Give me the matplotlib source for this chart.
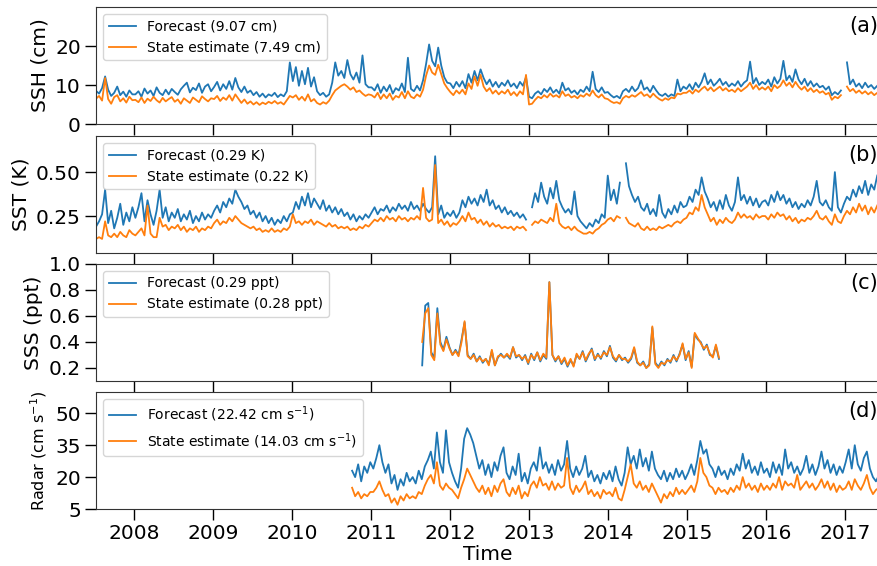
import numpy as np
import pandas as pd
import matplotlib
matplotlib.use('Agg')
import matplotlib.pyplot as plt
import matplotlib.dates as mdates
from matplotlib.ticker import FormatStrFormatter

nan = np.nan

# Biweekly RMS misfits of forecast vs. state estimate against each data type.
# Rows are calendar years (first row: Jul-Dec 2007).
ssh_start = '2007-07-09'
ssh_forecast = [
    8.5, 7.8, 9.2, 12.2, 8.8, 7.2, 8.0, 9.6, 7.4, 8.3, 7.0, 8.6, 7.6,
    7.6, 8.4, 7.0, 9.1, 7.8, 8.6, 7.2, 9.4, 8.0, 7.4, 8.8, 7.6, 9.0, 8.2, 7.5, 8.9, 9.8, 10.6, 8.1, 9.3, 8.7, 10.4, 8.0, 9.6, 10.2, 8.4,
    9.5, 10.8, 8.6, 10.2, 9.0, 11.0, 8.8, 11.8, 9.4, 8.2, 9.6, 8.0, 8.6, 7.4, 8.2, 7.0, 7.8, 6.8, 7.6, 7.2, 8.0, 6.9, 7.6, 7.1, 8.4, 15.8,
    11.0, 14.6, 9.8, 13.6, 10.2, 14.4, 9.6, 12.0, 8.4, 7.4, 8.0, 7.0, 7.6, 10.6, 15.8, 12.4, 13.6, 11.8, 16.4, 12.8, 11.4, 13.2, 10.6, 17.6, 10.2, 9.4,
    9.4, 8.6, 10.2, 8.0, 9.6, 8.4, 10.0, 7.8, 9.2, 8.6, 10.4, 8.2, 17.0, 9.0, 8.4, 9.8, 8.6, 11.2, 15.4, 20.4, 16.2, 14.8, 19.6, 15.0, 12.0, 10.6,
    10.4, 9.2, 10.8, 9.6, 11.0, 9.2, 12.8, 10.6, 13.6, 11.2, 14.0, 11.8, 10.2, 11.4, 9.6, 10.8, 9.4, 10.6, 9.8, 11.2, 9.6, 10.4, 9.2, 10.8, 9.8, 12.0,
    7.0, 6.6, 7.8, 8.4, 7.6, 9.0, 8.2, 9.4, 8.0, 8.8, 7.8, 10.6, 8.6, 9.2, 8.0, 8.6, 7.6, 8.8, 8.2, 9.6, 8.4, 13.4, 9.0, 8.2, 9.4, 8.0,
    8.2, 7.4, 6.8, 7.2, 6.6, 8.4, 9.0, 8.2, 9.6, 8.4, 9.2, 11.2, 8.8, 9.4, 8.2, 9.8, 8.6, 7.6, 7.2, 7.8, 7.0, 7.6, 7.2, 11.4, 8.4, 9.6,
    9.0, 10.2, 8.8, 10.6, 9.4, 10.8, 13.0, 10.2, 11.4, 9.8, 10.6, 11.6, 10.0, 10.8, 9.6, 10.4, 9.8, 11.0, 9.6, 10.6, 11.2, 16.0, 10.4, 11.8, 10.0, 10.8,
    10.2, 11.4, 9.6, 12.0, 10.4, 11.6, 16.2, 11.2, 12.4, 10.8, 14.0, 11.4, 10.2, 11.6, 9.8, 11.0, 9.6, 10.4, 9.4, 9.8, 8.8, 9.6, 7.4, 8.2, 7.6, 8.6,
    nan, 15.8, 10.2, 11.4, 9.6, 10.4, 9.2, 10.6, 9.4, 10.0, 9.0, 9.8,
]
ssh_state = [
    6.5, 7.2, 6.0, 11.8, 6.4, 5.2, 6.9, 7.4, 5.8, 6.6, 5.5, 7.0, 6.1,
    6.2, 5.6, 6.8, 5.4, 6.5, 5.9, 7.0, 6.1, 5.5, 6.7, 5.8, 6.4, 6.9, 5.7, 6.3, 5.2, 6.6, 6.0, 5.4, 6.8, 6.2, 5.6, 7.1, 6.4, 5.8, 6.6,
    6.4, 7.2, 5.9, 6.8, 6.2, 7.4, 6.0, 7.6, 6.5, 5.4, 6.3, 5.2, 5.8, 5.0, 5.6, 4.9, 5.5, 5.1, 5.7, 5.3, 5.9, 5.2, 5.6, 5.0, 6.1, 7.2,
    6.8, 7.4, 6.2, 7.0, 6.0, 7.6, 5.8, 6.4, 5.4, 5.0, 5.6, 5.2, 6.0, 7.4, 8.6, 9.2, 9.8, 10.2, 9.6, 8.8, 9.4, 8.2, 8.6, 7.8, 7.2, 7.6,
    7.4, 6.8, 8.0, 6.4, 7.6, 6.6, 7.8, 6.2, 7.2, 6.8, 8.2, 6.6, 8.4, 7.0, 6.6, 7.6, 7.0, 8.8, 12.4, 15.0, 13.2, 12.6, 15.2, 12.8, 10.4, 9.2,
    8.2, 7.4, 8.6, 7.8, 8.8, 7.6, 10.4, 9.0, 12.2, 9.8, 12.6, 9.6, 8.4, 9.2, 7.8, 8.6, 7.6, 8.4, 7.8, 8.8, 7.4, 8.2, 7.2, 8.4, 7.6, 12.6,
    5.0, 5.2, 6.2, 7.0, 6.6, 7.4, 6.8, 7.8, 7.0, 7.4, 6.8, 8.4, 7.2, 7.6, 6.8, 7.2, 6.6, 7.4, 7.0, 7.8, 7.2, 8.6, 7.4, 6.8, 7.6, 6.6,
    6.4, 5.8, 5.4, 5.6, 5.2, 6.6, 7.2, 6.8, 7.4, 7.0, 7.6, 8.2, 7.2, 7.6, 6.8, 7.8, 7.0, 6.4, 6.0, 6.6, 6.2, 6.8, 6.6, 7.8, 7.6, 8.0,
    8.0, 8.6, 7.8, 8.8, 8.2, 9.0, 9.6, 8.6, 9.4, 8.4, 9.0, 9.6, 8.6, 9.2, 8.4, 8.8, 8.2, 9.2, 8.4, 9.0, 9.6, 10.6, 9.0, 10.0, 8.8, 9.4,
    8.8, 9.6, 8.4, 10.0, 9.2, 9.8, 11.2, 9.8, 10.6, 9.4, 10.8, 9.6, 8.8, 9.6, 8.4, 9.2, 8.2, 8.8, 8.0, 8.4, 7.6, 8.0, 6.2, 7.0, 6.6, 7.4,
    nan, 9.6, 8.4, 9.0, 8.0, 8.6, 7.8, 8.4, 7.6, 8.2, 7.4, 8.0,
]
ssh_rms = [9.07, 7.49]

sst_start = '2007-07-09'
sst_forecast = [
    0.19, 0.22, 0.26, 0.40, 0.21, 0.28, 0.18, 0.24, 0.32, 0.20, 0.27, 0.22, 0.30,
    0.24, 0.30, 0.38, 0.22, 0.34, 0.26, 0.20, 0.28, 0.40, 0.24, 0.30, 0.22, 0.27, 0.24, 0.29, 0.22, 0.26, 0.23, 0.28, 0.21, 0.25, 0.22, 0.27, 0.23, 0.26, 0.24,
    0.28, 0.31, 0.27, 0.33, 0.30, 0.35, 0.32, 0.40, 0.36, 0.33, 0.29, 0.31, 0.26, 0.28, 0.24, 0.27, 0.22, 0.25, 0.21, 0.24, 0.20, 0.23, 0.21, 0.25, 0.22, 0.26,
    0.27, 0.33, 0.29, 0.36, 0.31, 0.38, 0.30, 0.35, 0.32, 0.29, 0.34, 0.28, 0.31, 0.27, 0.30, 0.26, 0.29, 0.25, 0.27, 0.23, 0.26, 0.22, 0.25, 0.23, 0.26, 0.24,
    0.27, 0.30, 0.26, 0.29, 0.28, 0.31, 0.27, 0.30, 0.28, 0.32, 0.29, 0.31, 0.28, 0.33, 0.29, 0.31, 0.28, 0.32, 0.29, 0.27, 0.30, 0.59, 0.26, 0.31, 0.24, 0.27,
    0.25, 0.28, 0.24, 0.27, 0.34, 0.30, 0.36, 0.32, 0.35, 0.31, 0.37, 0.33, 0.40, 0.31, 0.34, 0.29, 0.31, 0.27, 0.30, 0.26, 0.28, 0.25, 0.27, 0.24, 0.26, 0.23,
    nan, 0.30, 0.38, 0.33, 0.44, 0.36, 0.32, 0.41, 0.35, 0.45, 0.34, 0.30, 0.27, 0.29, 0.26, 0.39, 0.25, 0.22, 0.20, 0.18, 0.21, 0.19, 0.23, 0.21, 0.26, 0.24,
    0.48, 0.34, 0.40, 0.32, 0.44, nan, 0.55, 0.42, 0.37, 0.33, 0.36, 0.30, 0.28, 0.32, 0.26, 0.29, 0.25, 0.37, 0.27, 0.24, 0.29, 0.26, 0.31, 0.27, 0.33, 0.30,
    0.31, 0.36, 0.33, 0.40, 0.37, 0.47, 0.39, 0.35, 0.30, 0.33, 0.28, 0.34, 0.29, 0.37, 0.31, 0.28, 0.33, 0.47, 0.34, 0.37, 0.32, 0.36, 0.31, 0.35, 0.30, 0.33,
    0.34, 0.31, 0.37, 0.33, 0.39, 0.34, 0.37, 0.32, 0.35, 0.30, 0.33, 0.29, 0.32, 0.30, 0.34, 0.31, 0.36, 0.45, 0.33, 0.31, 0.34, 0.30, 0.28, 0.50, 0.30, 0.27,
    0.32, 0.36, 0.34, 0.40, 0.36, 0.42, 0.38, 0.45, 0.37, 0.43, 0.40, 0.48,
]
sst_state = [
    0.12, 0.13, 0.12, 0.22, 0.14, 0.13, 0.15, 0.13, 0.16, 0.14, 0.13, 0.17, 0.15,
    0.14, 0.16, 0.18, 0.14, 0.31, 0.15, 0.13, 0.13, 0.24, 0.19, 0.20, 0.17, 0.19, 0.18, 0.20, 0.17, 0.19, 0.16, 0.18, 0.17, 0.19, 0.16, 0.18, 0.17, 0.19, 0.18,
    0.21, 0.23, 0.20, 0.22, 0.21, 0.24, 0.22, 0.25, 0.23, 0.21, 0.20, 0.19, 0.18, 0.19, 0.17, 0.18, 0.16, 0.17, 0.16, 0.18, 0.16, 0.17, 0.16, 0.18, 0.17, 0.19,
    0.26, 0.21, 0.22, 0.20, 0.22, 0.21, 0.23, 0.20, 0.22, 0.21, 0.20, 0.19, 0.21, 0.19, 0.20, 0.18, 0.19, 0.18, 0.19, 0.17, 0.18, 0.17, 0.19, 0.18, 0.20, 0.19,
    0.21, 0.23, 0.22, 0.24, 0.22, 0.25, 0.23, 0.24, 0.22, 0.25, 0.23, 0.24, 0.22, 0.24, 0.23, 0.25, 0.23, 0.41, 0.24, 0.22, 0.23, 0.54, 0.21, 0.23, 0.20, 0.22,
    0.19, 0.21, 0.20, 0.22, 0.25, 0.22, 0.27, 0.23, 0.24, 0.21, 0.23, 0.20, 0.22, 0.19, 0.21, 0.19, 0.20, 0.18, 0.19, 0.18, 0.19, 0.17, 0.19, 0.18, 0.19, 0.17,
    nan, 0.20, 0.22, 0.21, 0.23, 0.22, 0.21, 0.24, 0.22, 0.32, 0.21, 0.19, 0.18, 0.19, 0.17, 0.19, 0.17, 0.16, 0.15, 0.15, 0.16, 0.15, 0.17, 0.18, 0.20, 0.21,
    0.23, 0.24, 0.22, 0.25, 0.24, nan, 0.24, 0.21, 0.20, 0.19, 0.21, 0.18, 0.17, 0.19, 0.17, 0.18, 0.17, 0.19, 0.18, 0.19, 0.20, 0.19, 0.21, 0.22, 0.21, 0.23,
    0.24, 0.27, 0.26, 0.30, 0.28, 0.37, 0.30, 0.26, 0.22, 0.24, 0.20, 0.23, 0.21, 0.24, 0.22, 0.21, 0.23, 0.27, 0.24, 0.26, 0.24, 0.25, 0.23, 0.26, 0.24, 0.25,
    0.25, 0.23, 0.26, 0.24, 0.27, 0.25, 0.26, 0.23, 0.25, 0.22, 0.24, 0.21, 0.23, 0.22, 0.24, 0.23, 0.25, 0.28, 0.24, 0.23, 0.25, 0.22, 0.20, 0.26, 0.22, 0.21,
    0.25, 0.28, 0.26, 0.30, 0.27, 0.32, 0.28, 0.31, 0.26, 0.30, 0.27, 0.31,
]
sst_rms = [0.29, 0.22]

sss_start = '2011-08-25'
sss_forecast = [
    0.22, 0.68, 0.70, 0.32, 0.28, 0.66, 0.40, 0.34, 0.44, 0.36,
    0.30, 0.34, 0.30, 0.42, 0.55, 0.30, 0.27, 0.31, 0.25, 0.29,
    0.24, 0.27, 0.23, 0.33, 0.22, 0.28, 0.31, 0.28, 0.30, 0.27,
    0.36, 0.28, 0.30, 0.26, 0.30, 0.23, 0.31, 0.26, 0.32, 0.25,
    0.30, 0.27, 0.86, 0.30, 0.25, 0.29, 0.23, 0.27, 0.21, 0.26,
    0.22, 0.30, 0.27, 0.33, 0.25, 0.30, 0.35, 0.26, 0.31, 0.27,
    0.33, 0.29, 0.37, 0.28, 0.25, 0.30, 0.26, 0.28, 0.24, 0.27,
    0.35, 0.24, 0.22, 0.25, 0.20, 0.23, 0.51, 0.24, 0.21, 0.25,
    0.22, 0.27, 0.24, 0.30, 0.25, 0.31, 0.38, 0.26, 0.33, 0.21,
    0.46, 0.42, 0.40, 0.34, 0.38, 0.30, 0.29, 0.37, 0.27,
]
sss_state = [
    0.40, 0.62, 0.66, 0.30, 0.26, 0.62, 0.38, 0.33, 0.42, 0.35,
    0.30, 0.33, 0.29, 0.40, 0.56, 0.29, 0.27, 0.30, 0.25, 0.28,
    0.25, 0.27, 0.22, 0.34, 0.22, 0.29, 0.30, 0.28, 0.31, 0.28,
    0.36, 0.29, 0.30, 0.27, 0.29, 0.24, 0.30, 0.27, 0.32, 0.26,
    0.31, 0.28, 0.86, 0.30, 0.26, 0.29, 0.24, 0.28, 0.22, 0.27,
    0.21, 0.31, 0.27, 0.32, 0.26, 0.31, 0.34, 0.27, 0.30, 0.28,
    0.32, 0.30, 0.36, 0.29, 0.26, 0.30, 0.27, 0.27, 0.25, 0.28,
    0.36, 0.25, 0.22, 0.24, 0.20, 0.22, 0.52, 0.23, 0.20, 0.24,
    0.23, 0.26, 0.25, 0.29, 0.26, 0.30, 0.39, 0.27, 0.32, 0.20,
    0.47, 0.43, 0.39, 0.35, 0.37, 0.31, 0.28, 0.38, 0.28,
]
sss_rms = [0.29, 0.28]

radar_start = '2010-10-05'
radar_forecast = [
    23, 20, 26, 18, 25, 22, 27,
    24, 29, 35, 27, 22, 26, 17, 21, 14, 19, 16, 22, 18,
    20, 17, 23, 19, 25, 28, 32, 24, 41, 27, 22, 42, 27,
    22, 18, 15, 24, 38, 43, 40, 36, 30, 24, 28, 21, 26, 20, 27, 23, 30, 34, 22, 19, 25, 21, 31, 18, 22, 17,
    24, 27, 23, 34, 24, 27, 22, 26, 21, 28, 23, 26, 37, 24, 20, 25, 21, 24, 30, 20, 23, 18, 21, 17, 22, 19,
    23, 18, 25, 19, 16, 22, 34, 26, 30, 24, 33, 25, 29, 23, 32, 24, 21, 19, 23, 18, 22, 19, 24, 20, 23, 19,
    22, 26, 21, 28, 37, 31, 33, 26, 24, 20, 25, 21, 23, 19, 24, 21, 26, 23, 31, 24, 28, 22, 25, 21, 27, 22,
    24, 20, 27, 22, 26, 21, 33, 24, 27, 22, 25, 21, 24, 30, 22, 26, 21, 25, 32, 24, 28, 22, 26, 21, 25, 22,
    27, 33, 24, 35, 26, 23, 29, 32, 24, 20, 18, 21,
]
radar_state = [
    15, 11, 13, 10, 12, 11, 13,
    13, 15, 18, 14, 11, 12, 8, 10, 7, 11, 9, 12, 10,
    11, 10, 13, 12, 16, 19, 21, 17, 27, 16, 14, 17, 15,
    14, 12, 10, 15, 19, 24, 21, 18, 15, 13, 16, 12, 15, 11, 16, 13, 17, 19, 13, 11, 15, 12, 16, 10, 13, 11,
    16, 18, 15, 20, 16, 17, 14, 18, 14, 17, 15, 16, 29, 15, 12, 16, 13, 15, 18, 12, 14, 11, 13, 10, 14, 12,
    13, 11, 15, 10, 9, 14, 20, 26, 17, 15, 18, 14, 16, 13, 17, 14, 11, 8, 12, 10, 13, 11, 15, 12, 14, 12,
    14, 16, 13, 18, 29, 22, 20, 16, 15, 12, 15, 13, 14, 12, 15, 13, 16, 14, 20, 15, 17, 14, 16, 13, 17, 14,
    16, 14, 17, 15, 20, 14, 18, 16, 17, 15, 21, 14, 16, 18, 15, 17, 14, 16, 19, 15, 18, 14, 17, 13, 16, 14,
    15, 18, 14, 19, 16, 14, 17, 21, 15, 12, 14, 15,
]
radar_rms = [22.42, 14.03]

FORECAST_COLOR = '#1f77b4'
STATE_COLOR = '#ff7f0e'


def series_dates(start, values):
    return pd.date_range(start, periods=len(values), freq='14D')


panels = [
    dict(start=ssh_start, fc=ssh_forecast, se=ssh_state, rms=ssh_rms, unit='cm',
         ylabel='SSH (cm)', ylim=(0, 30), yticks=[0, 10, 20], fmt='%d', tag='(a)'),
    dict(start=sst_start, fc=sst_forecast, se=sst_state, rms=sst_rms, unit='K',
         ylabel='SST (K)', ylim=(0.04, 0.705), yticks=[0.25, 0.50], fmt='%.2f', tag='(b)'),
    dict(start=sss_start, fc=sss_forecast, se=sss_state, rms=sss_rms, unit='ppt',
         ylabel='SSS (ppt)', ylim=(0.1, 1.0), yticks=[0.2, 0.4, 0.6, 0.8, 1.0], fmt='%.1f', tag='(c)'),
    dict(start=radar_start, fc=radar_forecast, se=radar_state, rms=radar_rms, unit='cm s$^{-1}$',
         ylabel='Radar (cm s$^{-1}$)', ylim=(5, 60), yticks=[5, 20, 35, 50], fmt='%d', tag='(d)'),
]

fig = plt.figure(figsize=(8.77, 5.66), dpi=100)
left, width, height = 0.1095, 0.894, 0.2067
bottoms = [0.7809, 0.5530, 0.3269, 0.1007]
xlim = (pd.Timestamp('2007-07-09'), pd.Timestamp('2017-06-11'))

axes = []
for k, (p, bottom) in enumerate(zip(panels, bottoms)):
    ax = fig.add_axes([left, bottom, width, height], sharex=axes[0] if axes else None)
    axes.append(ax)

    ax.plot(series_dates(p['start'], p['fc']), p['fc'], color=FORECAST_COLOR, lw=1.3,
            label='Forecast (%.2f %s)' % (p['rms'][0], p['unit']))
    ax.plot(series_dates(p['start'], p['se']), p['se'], color=STATE_COLOR, lw=1.3,
            label='State estimate (%.2f %s)' % (p['rms'][1], p['unit']))

    ax.set_ylim(*p['ylim'])
    ax.set_yticks(p['yticks'])
    ax.yaxis.set_major_formatter(FormatStrFormatter(p['fmt']))
    ax.set_ylabel(p['ylabel'], fontsize=11.5 if k == 3 else 14.5)

    ax.tick_params(direction='out', length=8, width=1, labelsize=14.5, pad=3)
    for spine in ax.spines.values():
        spine.set_color('0.2')

    ax.legend(loc='upper left', fontsize=10)
    ax.text(0.9974, 0.84, p['tag'], transform=ax.transAxes, ha='right', va='center', fontsize=15)

    if k < 3:
        ax.tick_params(labelbottom=False)

ax = axes[-1]
ax.set_xlim(*xlim)
ax.xaxis.set_major_locator(mdates.YearLocator())
ax.xaxis.set_major_formatter(mdates.DateFormatter('%Y'))
ax.set_xlabel('Time', fontsize=14.5, labelpad=1)

fig.savefig('out.png', dpi=100)
